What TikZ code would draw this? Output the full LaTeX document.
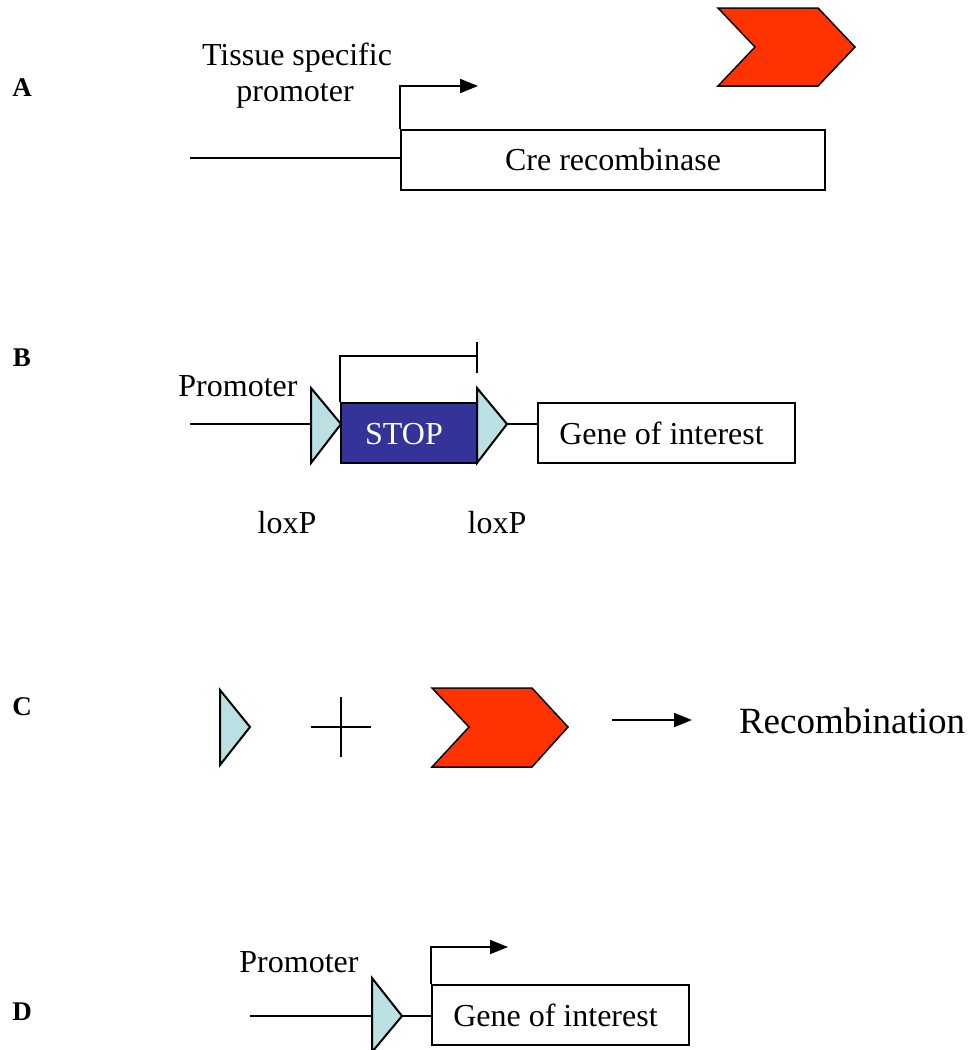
\documentclass[tikz,border=0pt]{standalone}
\usepackage{fontspec}
\setmainfont{Liberation Serif}
\usetikzlibrary{arrows.meta}
\definecolor{loxcol}{HTML}{BBE0E3}
\definecolor{crecol}{HTML}{FF3300}
\definecolor{stopcol}{HTML}{333399}
\begin{document}
\begin{tikzpicture}[x=1pt,y=-1pt,line width=2pt,
  txt/.style={inner sep=0pt,anchor=base,font=\fontsize{32}{38}\selectfont},
  lbl/.style={inner sep=0pt,anchor=base,font=\fontsize{27}{30}\selectfont\bfseries},
  genebox/.style={draw,fill=white,inner sep=0pt,font=\fontsize{32}{38}\selectfont},
  lox/.style={draw,fill=loxcol,line join=miter},
  cre/.style={draw,fill=crecol,line width=1.5pt,line join=miter},
  arr/.style={-{Triangle[length=18pt,width=14pt]}}]
\useasboundingbox (0,0) rectangle (974,1050);
% ---------- A ----------
\node[lbl] (la) at (22,96) {A};
\node[genebox,minimum width=424pt,minimum height=60pt] (cre) at (613,160) {Cre recombinase};
\coordinate (a0) at (190,158);
\draw (a0) -- (a0 -| cre.west);
\coordinate (atip) at (478,86);
\draw[arr] (cre.north west) -- (cre.north west |- atip) -- (atip);
\node[txt] (tsp) at (297,65) {Tissue specific};
\node[txt] (prA) at (295,101) {promoter};
\draw[cre] (718,8) coordinate (creA) -- (818,8) -- (855,47) -- (818,86) -- (718,86) -- (755,47) -- cycle;
% ---------- B ----------
\node[lbl] (lb) at (22,366) {B};
\coordinate (b0) at (190,424);
\coordinate (l1) at (311,424);
\draw (b0) -- (l1);
\node[draw,fill=stopcol,text=white,inner sep=0pt,minimum width=136pt,minimum height=60pt,font=\fontsize{32}{38}\selectfont] (stop) at (409,433) {};
\node[txt,text=white] (stoptxt) at (404,444) {STOP};
\draw[lox] (311,388) -- (341,424) -- (311,463) -- cycle;
\draw[lox] (477,388) -- (507,424) coordinate (l2tip) -- (477,463) -- cycle;
\node[genebox,minimum width=257pt,minimum height=60pt] (goiB) at (666.5,433) {\hspace*{-10pt}Gene of interest};
\draw (l2tip) -- (l2tip -| goiB.west);
\coordinate (tbar) at (477,356);
\draw (stop.north west) -- (stop.north west |- tbar) -- (tbar);
\draw (477,342) -- (477,373);
\node[txt] (prB) at (238,396) {Promoter};
\node[txt] (lx1) at (287,533) {loxP};
\node[txt] (lx2) at (497,533) {loxP};
% ---------- C ----------
\node[lbl] (lc) at (22,715) {C};
\draw[lox] (220,690) -- (250,727) -- (220,765) -- cycle;
\coordinate (pc) at (341,727);
\draw (pc) ++(-30,0) -- ++(60,0);
\draw (pc) ++(0,-30) -- ++(0,60);
\draw[cre] (432,688) -- (532,688) -- (568,727) -- (532,767) -- (432,767) -- (469,727) -- cycle;
\coordinate (c1) at (612,720);
\node[inner sep=0pt,anchor=base west,font=\fontsize{37}{44}\selectfont] (rec) at (738,733) {Recombination};
\draw[arr] (c1) -- (692,720);
% ---------- D ----------
\node[lbl] (ld) at (22,1020) {D};
\coordinate (d0) at (250,1016);
\draw (d0) -- (372,1016);
\draw[lox] (372,978) -- (402,1016) coordinate (d3tip) -- (372,1052) -- cycle;
\node[genebox,minimum width=257pt,minimum height=60pt] (goiD) at (560.5,1015) {\hspace*{-10pt}Gene of interest};
\draw (d3tip) -- (d3tip -| goiD.west);
\coordinate (dtip) at (508,947);
\draw[arr] (goiD.north west) -- (goiD.north west |- dtip) -- (dtip);
\node[txt] (prD) at (299,972) {Promoter};
\end{tikzpicture}
\end{document}
